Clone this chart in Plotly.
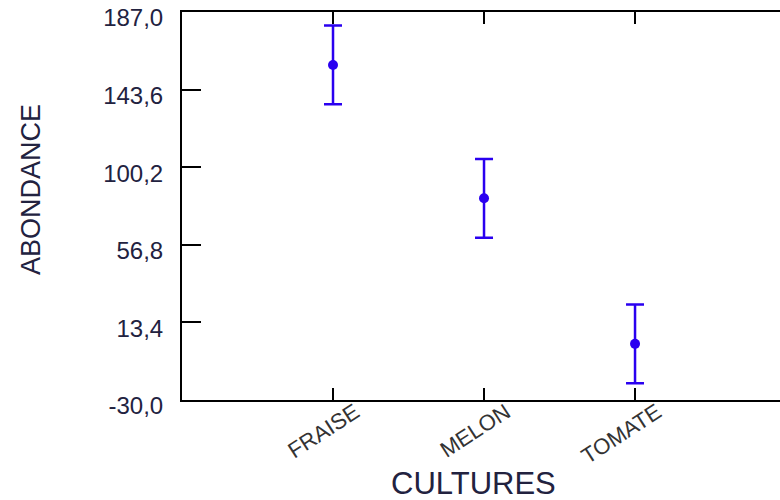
import plotly.graph_objects as go

# Crop groups and their mean abundance with the half-width of the interval
cultures = ["FRAISE", "MELON", "TOMATE"]
abondance = [157.4, 82.8, 1.4]
demi_intervalle = [22.0, 22.0, 22.0]

# Y axis graduation
y_ticks = [-30.0, 13.4, 56.8, 100.2, 143.6, 187.0]
y_labels = ["-30,0", "13,4", "56,8", "100,2", "143,6", "187,0"]

bleu = "#2a00f0"
encre = "#22223f"

fig = go.Figure()
fig.add_trace(go.Scatter(
    x=cultures,
    y=abondance,
    mode="markers",
    marker=dict(color=bleu, size=10),
    error_y=dict(type="data", array=demi_intervalle, visible=True,
                 color=bleu, thickness=2.5, width=9),
    showlegend=False,
))

fig.update_layout(
    width=780, height=500,
    margin=dict(l=182, r=0, t=12, b=100, autoexpand=False),
    paper_bgcolor="white", plot_bgcolor="white",
    font=dict(family="Liberation Sans, Arial, sans-serif", color=encre),
    xaxis=dict(
        type="category",
        range=[-1, 2.96],
        automargin=False,
        showline=True, linecolor="black", linewidth=2,
        mirror="allticks",
        ticks="inside", ticklen=12, tickwidth=2, tickcolor="black",
        tickangle=-33,
        ticklabelshift=22,
        ticklabelstandoff=-11,
        tickfont=dict(size=22, color="#333333"),
        showgrid=False, zeroline=False,
    ),
    yaxis=dict(
        range=[-30, 187],
        automargin=False,
        tickvals=y_ticks, ticktext=y_labels,
        showline=True, linecolor="black", linewidth=2,
        ticks="inside", ticklen=19, tickwidth=2, tickcolor="black",
        ticklabelstandoff=12,
        ticklabelshift=6,
        ticklabeloverflow="allow",
        tickfont=dict(size=24, color=encre),
        showgrid=False, zeroline=False,
    ),
    yaxis2=dict(
        overlaying="y", side="right", anchor="x",
        range=[-30, 187],
        automargin=False,
        tickvals=y_ticks,
        showline=False, showticklabels=False,
        ticks="inside", ticklen=12, tickwidth=2, tickcolor="black",
        showgrid=False, zeroline=False,
    ),
    annotations=[
        dict(text="CULTURES", xref="paper", yref="paper",
             x=0.4875, y=-0.215, xanchor="center", yanchor="middle",
             showarrow=False, font=dict(size=31, color=encre)),
        dict(text="ABONDANCE", xref="paper", yref="paper",
             x=-0.2525, y=0.541, xanchor="center", yanchor="middle",
             textangle=-90, showarrow=False,
             font=dict(size=27, color=encre)),
    ],
)

fig.write_html("out.html")
